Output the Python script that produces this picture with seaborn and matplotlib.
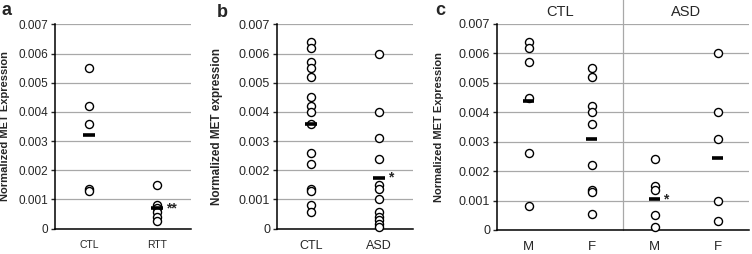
import numpy as np
import pandas as pd
import seaborn as sns
import matplotlib
matplotlib.use('Agg')
import matplotlib.pyplot as plt

# Panel a: CTL vs RTT
A_GROUPS = ['CTL', 'RTT']
A_CTL = [0.0055, 0.0042, 0.0036, 0.00135, 0.0013]
A_RTT = [0.0015, 0.0008, 0.0007, 0.00055, 0.0004, 0.00025]
A_MEANS = [0.0032, 0.0007]

# Panel b: CTL vs ASD
B_GROUPS = ['CTL', 'ASD']
B_CTL = [0.0064, 0.0062, 0.0057, 0.0055, 0.0052, 0.0045, 0.0042, 0.0040,
         0.0036, 0.0026, 0.0022, 0.00135, 0.0013, 0.0008, 0.00055]
B_ASD = [0.0060, 0.0040, 0.0031, 0.0024, 0.0015, 0.00135, 0.0010,
         0.00055, 0.0004, 0.0003, 0.00015, 0.00005]
B_MEANS = [0.0036, 0.00175]

# Panel c: split by sex
C_GROUPS = ['CTL M', 'CTL F', 'ASD M', 'ASD F']
C_TICKS = ['M', 'F', 'M', 'F']
C_HEADERS = ['CTL', 'ASD']
C_CTL_M = [0.0064, 0.0062, 0.0057, 0.0045, 0.0026, 0.0008]
C_CTL_F = [0.0055, 0.0052, 0.0042, 0.0040, 0.0036, 0.0022, 0.00135, 0.0013, 0.00055]
C_ASD_M = [0.0024, 0.0015, 0.00135, 0.0005, 0.0001]
C_ASD_F = [0.0060, 0.0040, 0.0031, 0.0010, 0.0003]
C_MEANS = [0.0044, 0.0031, 0.00105, 0.00245]

Y_TICKS = [0, 0.001, 0.002, 0.003, 0.004, 0.005, 0.006, 0.007]
Y_TICKLABELS = ['0', '0.001', '0.002', '0.003', '0.004', '0.005', '0.006', '0.007']

sns.set_style('white')
plt.rcParams['font.family'] = ['Liberation Sans', 'DejaVu Sans']

W, H = 752, 254
fig = plt.figure(figsize=(W / 100, H / 100), dpi=100)


def px_axes(left, top, right, bottom):
    return fig.add_axes([left / W, 1 - bottom / H, (right - left) / W, (bottom - top) / H])


def long_form(groups, series):
    rows = []
    for g, vals in zip(groups, series):
        for v in vals:
            rows.append((g, v))
    return pd.DataFrame(rows, columns=['grp', 'val'])


def draw_panel(ax, groups, series, means, ticklabels, ylabel, stars,
               tick_fs, cat_fs, lab_fs, lab_x, half=0.09):
    df = long_form(groups, series)
    sns.stripplot(data=df, x='grp', y='val', order=groups, jitter=False,
                  color='white', edgecolor='black', linewidth=1.0, size=5.8,
                  ax=ax, clip_on=False, zorder=3)
    pos = np.arange(len(groups))
    ax.hlines(means, pos - half, pos + half, color='black', lw=2.6, zorder=4)
    for i, s in stars.items():
        ax.text(i + 0.13, means[i], s, ha='left', va='center',
                fontsize=10, fontweight='bold')
    ax.set_xlim(-0.5, len(groups) - 0.5)
    ax.set_ylim(0, 0.007)
    ax.set_yticks(Y_TICKS)
    ax.set_yticklabels(Y_TICKLABELS, fontsize=tick_fs)
    ax.set_xticks(pos)
    ax.set_xticklabels(ticklabels, fontsize=cat_fs)
    ax.set_xticks(np.arange(len(groups) + 1) - 0.5, minor=True)
    ax.tick_params(axis='x', which='major', length=0, pad=8)
    ax.tick_params(axis='x', which='minor', length=5, direction='inout', width=1)
    ax.tick_params(axis='y', length=3, direction='out', width=1, pad=2, left=True)
    ax.yaxis.grid(True, color='#a8a8a8', lw=0.9)
    ax.set_axisbelow(True)
    for side in ['top', 'right']:
        ax.spines[side].set_visible(False)
    for side in ['left', 'bottom']:
        ax.spines[side].set_color('black')
        ax.spines[side].set_linewidth(1.1)
    ax.set_xlabel('')
    ax.set_ylabel(ylabel, fontsize=lab_fs, fontweight='bold')
    ax.yaxis.set_label_coords(lab_x, 0.5)


ax_a = px_axes(55, 24.5, 191, 228.5)
draw_panel(ax_a, A_GROUPS, [A_CTL, A_RTT], A_MEANS, A_GROUPS,
           'Normalized MET Expression', {1: '**'}, 8.5, 7.5, 8.0, -0.33)

ax_b = px_axes(277, 24.5, 413, 228.5)
draw_panel(ax_b, B_GROUPS, [B_CTL, B_ASD], B_MEANS, B_GROUPS,
           'Normalized MET expression', {1: '*'}, 9, 9, 8.5, -0.40)

ax_c = px_axes(497, 24, 749, 230)
draw_panel(ax_c, C_GROUPS, [C_CTL_M, C_CTL_F, C_ASD_M, C_ASD_F], C_MEANS, C_TICKS,
           'Normalized MET Expression', {2: '*'}, 9, 9.5, 8.0, -0.21, half=0.095)
ax_c.axvline(1.5, ymin=0, ymax=1.12, color='#a8a8a8', lw=0.9, clip_on=False, zorder=1)
for i, h in enumerate(C_HEADERS):
    ax_c.text(0.5 + 2 * i, 0.0074, h, ha='center', va='center', fontsize=10.5)

for x, y, s in [(2, 15, 'a'), (217, 17, 'b'), (435, 15, 'c')]:
    fig.text(x / W, 1 - y / H, s, fontsize=13, fontweight='bold', va='baseline', ha='left')

fig.savefig('out.png', dpi=100)
